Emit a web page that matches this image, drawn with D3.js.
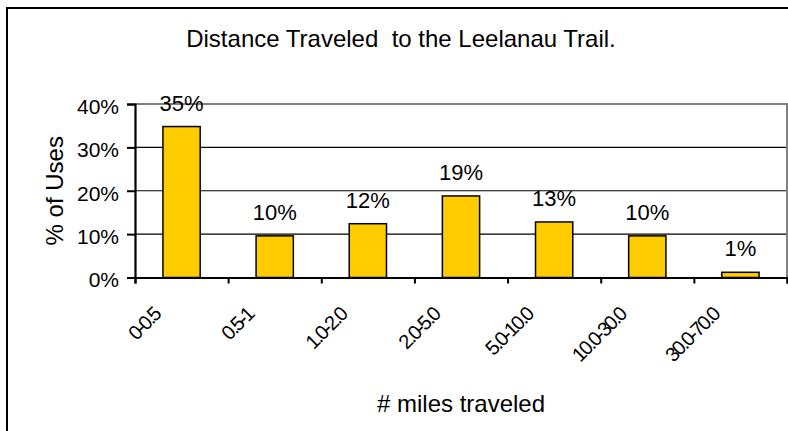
<!DOCTYPE html>
<html>
<head>
<meta charset="utf-8">
<script src="https://cdn.jsdelivr.net/npm/d3@7"></script>
<style>
  body { margin: 0; background: #fff; }
  text { font-family: "Liberation Sans", Arial, sans-serif; fill: #000; }
</style>
</head>
<body>
<svg id="chart" width="788" height="431"></svg>
<script>
// data
var categories = ["0-0.5", "0.5-1", "1.0-2.0", "2.0-5.0", "5.0-10.0", "10.0-30.0", "30.0-70.0"];
var shares = [34.8, 9.6, 12.4, 18.8, 12.8, 9.6, 1.2];
var yTicks = [0, 10, 20, 30, 40];

var width = 788, height = 431;
var plot = {left: 135, right: 787, top: 104, bottom: 277.5};

var svg = d3.select("#chart");

// outer chart border (cut off on right and bottom)
svg.append("path")
    .attr("d", "M7," + (height + 5) + "V8H" + (width + 5))
    .attr("fill", "none")
    .attr("stroke", "#000")
    .attr("stroke-width", 2);

var x = d3.scaleBand()
    .domain(categories)
    .range([plot.left, plot.right])
    .paddingInner(0.6)
    .paddingOuter(0.3);

var xEdges = d3.scaleLinear()
    .domain([0, categories.length])
    .range([plot.left, plot.right]);

var y = d3.scaleLinear()
    .domain([0, 40])
    .range([plot.bottom, plot.top]);

// gridlines
svg.append("g")
    .selectAll("line")
    .data(yTicks.filter(function(d){ return d > 0 && d < 40; }))
    .enter().append("line")
    .attr("x1", plot.left).attr("x2", plot.right)
    .attr("y1", function(d){ return y(d); })
    .attr("y2", function(d){ return y(d); })
    .attr("stroke", "#000")
    .attr("stroke-width", 1.2);

// plot area border, top and right in grey
svg.append("path")
    .attr("d", "M" + plot.left + "," + y(40) + "H" + plot.right + "V" + plot.bottom)
    .attr("fill", "none")
    .attr("stroke", "#808080")
    .attr("stroke-width", 2);

// bars
svg.append("g")
    .selectAll("rect")
    .data(shares)
    .enter().append("rect")
    .attr("x", function(d, i){ return x(categories[i]); })
    .attr("y", function(d){ return y(d); })
    .attr("width", x.bandwidth())
    .attr("height", function(d){ return y(0) - y(d); })
    .attr("fill", "#FFCC00")
    .attr("stroke", "#000")
    .attr("stroke-width", 1.5);

// value labels
svg.append("g")
    .selectAll("text")
    .data(shares)
    .enter().append("text")
    .attr("x", function(d, i){ return x(categories[i]) + x.bandwidth() / 2; })
    .attr("y", function(d){ return y(d) - 16; })
    .attr("text-anchor", "middle")
    .style("font-size", "22px")
    .text(function(d){ return Math.round(d) + "%"; });

// y axis
var yAxis = svg.append("g")
    .attr("transform", "translate(" + plot.left + ",0)")
    .call(d3.axisLeft(y).tickValues(yTicks).tickSize(8).tickPadding(8)
      .tickFormat(function(d){ return d + "%"; }));
yAxis.select(".domain").attr("stroke-width", 2.2);
yAxis.selectAll(".tick line").attr("stroke-width", 2);
yAxis.selectAll(".tick text")
    .attr("dy", "0.45em")
    .style("font-size", "21px")
    .style("font-family", "Liberation Sans, Arial, sans-serif");

// x axis: tick marks at category edges
var xAxis = svg.append("g")
    .attr("transform", "translate(0," + plot.bottom + ")")
    .call(d3.axisBottom(xEdges).ticks(categories.length).tickSize(6).tickFormat(""));
xAxis.select(".domain").attr("stroke-width", 2.2);
xAxis.selectAll(".tick line").attr("stroke-width", 2);

// x tick labels, rotated
svg.append("g")
    .selectAll("text")
    .data(categories)
    .enter().append("text")
    .attr("transform", function(d){
      return "translate(" + (x(d) + x.bandwidth() / 2 - 20) + ",316) rotate(-45)";
    })
    .attr("text-anchor", "end")
    .style("font-size", "20px")
    .style("letter-spacing", "-2px")
    .text(function(d){ return d; });

// titles
svg.append("text")
    .attr("x", 401).attr("y", 47)
    .attr("text-anchor", "middle")
    .style("font-size", "24px")
    .style("white-space", "pre")
    .text("Distance Traveled  to the Leelanau Trail.");

svg.append("text")
    .attr("x", (plot.left + plot.right) / 2).attr("y", 412)
    .attr("text-anchor", "middle")
    .style("font-size", "24px")
    .text("# miles traveled");

svg.append("text")
    .attr("transform", "translate(63," + (plot.top + plot.bottom) / 2 + ") rotate(-90)")
    .attr("text-anchor", "middle")
    .style("font-size", "24px")
    .text("% of Uses");
</script>
</body>
</html>
